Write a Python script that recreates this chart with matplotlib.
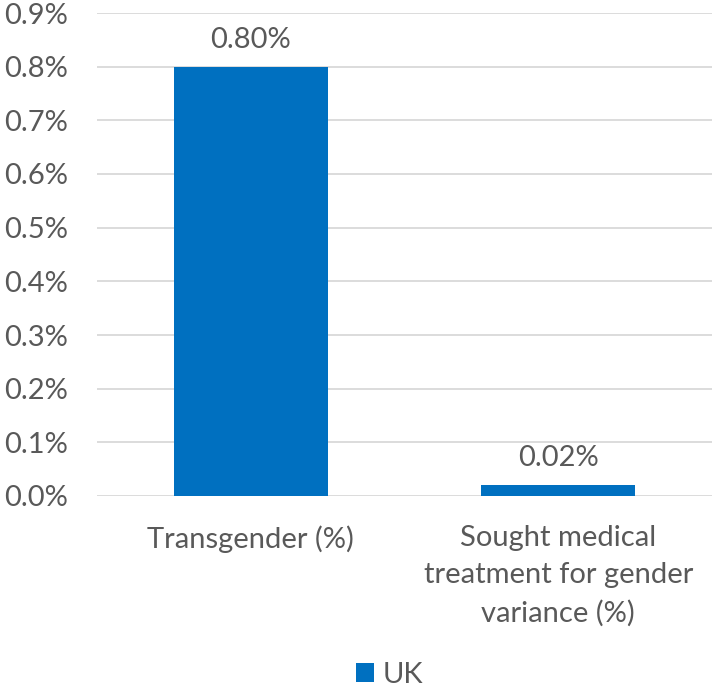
import matplotlib
matplotlib.use('Agg')
from matplotlib import pyplot as plt
from matplotlib.ticker import FuncFormatter

categories = ["Transgender (%)", "Sought medical\ntreatment for gender\nvariance (%)"]
uk_values = [0.0080, 0.0002]
bar_labels = ["0.80%", "0.02%"]
series_name = "UK"

blue = "#0070C0"
grey_text = "#595959"
grid_col = "#D9D9D9"

plt.rcParams['font.family'] = ['Lato', 'DejaVu Sans']
plt.rcParams['font.size'] = 21

fig = plt.figure(figsize=(7.15, 6.89), dpi=100)
ax = fig.add_axes([97/715, 1 - 496/689, (712 - 97)/715, (496 - 13)/689])

x = range(len(categories))
bars = ax.bar(x, uk_values, width=0.5, color=blue, label=series_name, zorder=3)
ax.bar_label(bars, labels=bar_labels, padding=10, color=grey_text, fontsize=21)

ax.set_xlim(-0.5, 1.5)
ax.set_ylim(0, 0.009)
ax.set_yticks([i / 1000 for i in range(10)])
ax.yaxis.set_major_formatter(FuncFormatter(lambda v, p: f"{v*100:.1f}%"))
ax.set_xticks(list(x))
ax.set_xticklabels(categories, linespacing=1.52)

ax.grid(axis='y', color=grid_col, linewidth=1.3, zorder=0)
for s in ax.spines.values():
    s.set_visible(False)
ax.tick_params(length=0, colors=grey_text, labelsize=21)
ax.tick_params(axis='x', pad=21)
ax.tick_params(axis='y', pad=21)

fig.legend(loc='center', bbox_to_anchor=(0.545, 1 - 675/689), frameon=False,
           handlelength=0.6, handleheight=0.6, handletextpad=0.3,
           labelcolor=grey_text, fontsize=21)

fig.savefig("out.png", dpi=100)
